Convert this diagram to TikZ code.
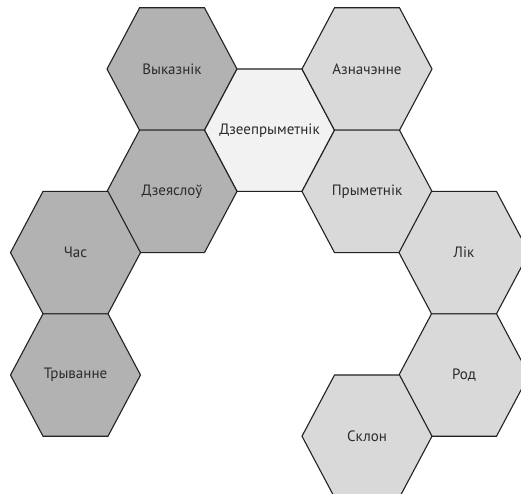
\documentclass[tikz,border=0pt]{standalone}
\usepackage{fontspec}
\setmainfont{PT Sans}
\definecolor{hexdark}{HTML}{B2B2B2}
\definecolor{hexlight}{HTML}{D9D9D9}
\definecolor{hexpale}{HTML}{F2F2F2}
\definecolor{hexedge}{HTML}{222222}
\definecolor{hextext}{HTML}{2B2B2B}
\newcommand\hexcell[4]{%
  \draw[hexline,fill=#2] ($(#1)+(-65,0)$) -- ++(32.5,-61.2) -- ++(65,0) -- ++(32.5,61.2) -- ++(-32.5,61.2) -- ++(-65,0) -- cycle;
  \node[hexlabel] (#4) at (#1) {#3};}
\usetikzlibrary{calc}
\begin{document}
\begin{tikzpicture}[x=1pt,y=-1pt,
  hexline/.style={draw=hexedge,line width=1.1pt,line join=miter},
  hexlabel/.style={text=hextext,font=\fontsize{15}{17}\selectfont,inner sep=0pt}]
\useasboundingbox (0,0) rectangle (521,494);
\clip (0,0) rectangle (521,494);
\coordinate (c1) at (172,69);
\coordinate (c2) at (269.5,130.2);
\coordinate (c3) at (367,69);
\coordinate (c4) at (172,191.4);
\coordinate (c5) at (367,191.4);
\coordinate (c6) at (75.5,252.6);
\coordinate (c7) at (464,252.6);
\coordinate (c8) at (75.5,375);
\coordinate (c9) at (464,375);
\coordinate (c10) at (367,436.2);
\hexcell{c1}{hexdark}{Выказнік}{vykaznik}
\hexcell{c2}{hexpale}{Дзеепрыметнік}{dzeeprymetnik}
\hexcell{c3}{hexlight}{Азначэнне}{aznachenne}
\hexcell{c4}{hexdark}{Дзеяслоў}{dzeyaslou}
\hexcell{c5}{hexlight}{Прыметнік}{prymetnik}
\hexcell{c6}{hexdark}{Час}{chas}
\hexcell{c7}{hexlight}{Лік}{lik}
\hexcell{c8}{hexdark}{Трыванне}{tryvanne}
\hexcell{c9}{hexlight}{Род}{rod}
\hexcell{c10}{hexlight}{Склон}{sklon}
\end{tikzpicture}
\end{document}
